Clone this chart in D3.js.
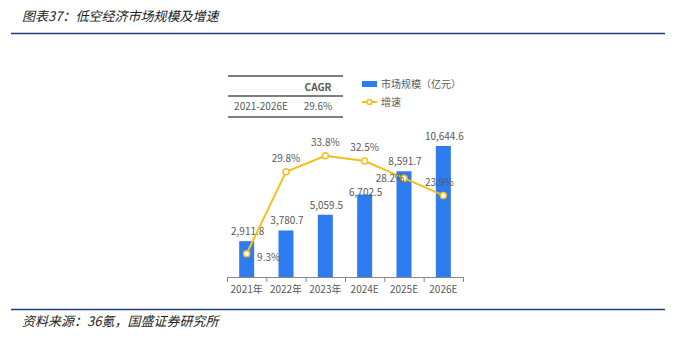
<!DOCTYPE html>
<html><head><meta charset="utf-8">
<script src="https://cdn.jsdelivr.net/npm/d3@7"></script>
<style>body{margin:0;background:#fff;}svg{display:block;font-family:"Noto Sans CJK SC","Noto Sans",sans-serif;}</style>
</head><body>
<svg id="c" width="675" height="339"></svg>
<script>
const categories = ["2021年","2022年","2023年","2024E","2025E","2026E"];
const marketSize = [2911.8, 3780.7, 5059.5, 6702.5, 8591.7, 10644.6];
const growth = [9.3, 29.8, 33.8, 32.5, 28.2, 23.9];
const cagrHeader = "CAGR";
const cagrRow = ["2021-2026E", "29.6%"];
const legendLabels = ["市场规模（亿元）", "增速"];
const titleText = "图表37：低空经济市场规模及增速";
const sourceText = "资料来源：36氪，国盛证券研究所";

const svg = d3.select("#c");
const blue = "#2f7bf0", yellow = "#f4bf1a", gray = "#595959";

// title & source
svg.append("text").attr("x",22).attr("y",21).attr("font-size",13).attr("font-style","italic")
  .attr("fill","#222").text(titleText);
svg.append("line").attr("x1",11).attr("x2",665).attr("y1",33.5).attr("y2",33.5)
  .attr("stroke","#1f3d78").attr("stroke-width",1.5);
svg.append("line").attr("x1",11).attr("x2",665).attr("y1",309.5).attr("y2",309.5)
  .attr("stroke","#1f3d78").attr("stroke-width",1.5);
svg.append("text").attr("x",22).attr("y",326).attr("font-size",13).attr("font-style","italic")
  .attr("fill","#222").text(sourceText);

const xc = d3.scaleBand().domain(categories).range([227,463]);
const y = d3.scaleLinear().domain([0,12000]).range([277, 277-131*12000/10644.6]);
const y2 = d3.scaleLinear().domain([0,40]).range([291,131]);

// bars
svg.selectAll("rect.bar").data(marketSize).join("rect").attr("class","bar")
  .attr("x",(d,i)=>xc(categories[i])+xc.bandwidth()/2-7.5).attr("width",15)
  .attr("y",d=>y(d)).attr("height",d=>y(0)-y(d)).attr("fill",blue);

// axis
const ax = svg.append("g").attr("transform","translate(0,277)").call(
  d3.axisBottom(xc).tickSize(0).tickPadding(9));
ax.select(".domain").attr("stroke","#888");
ax.selectAll("text").attr("font-size",10).attr("fill",gray).attr("font-family","'Noto Sans CJK SC','Noto Sans',sans-serif");
const edges = xc.domain().map(c=>xc(c)).concat([xc.range()[1]]);
svg.selectAll("line.tk").data(edges).join("line").attr("class","tk")
  .attr("x1",d=>d+0.5).attr("x2",d=>d+0.5).attr("y1",277).attr("y2",282).attr("stroke","#888");

// bar labels
const blOff = [-6,-6,-6,1,-6,-6];
svg.selectAll("text.bl").data(marketSize).join("text").attr("class","bl")
  .attr("x",(d,i)=>xc(categories[i])+xc.bandwidth()/2+1).attr("y",(d,i)=>y(d)+blOff[i])
  .attr("text-anchor","middle").attr("font-size",10).attr("fill",gray)
  .text(d=>d3.format(",.1f")(d));

// line
const cx = i=>xc(categories[i])+xc.bandwidth()/2;
svg.append("path").datum(growth)
  .attr("d", d3.line().x((d,i)=>cx(i)).y(d=>y2(d)))
  .attr("fill","none").attr("stroke",yellow).attr("stroke-width",2);
svg.selectAll("circle.pt").data(growth).join("circle").attr("class","pt")
  .attr("cx",(d,i)=>cx(i)).attr("cy",d=>y2(d)).attr("r",3)
  .attr("fill","#fff").attr("stroke",yellow).attr("stroke-width",1.5);

// line labels
const off = [[22,7],[0,-10],[0,-10],[0,-10],[-14,4],[-4,-9]];
svg.selectAll("text.gl").data(growth).join("text").attr("class","gl")
  .attr("x",(d,i)=>cx(i)+off[i][0]).attr("y",(d,i)=>y2(d)+off[i][1])
  .attr("text-anchor","middle").attr("font-size",10).attr("fill",gray)
  .text(d=>d.toFixed(1)+"%");

// CAGR table
const tb = svg.append("g");
[76,96,117].forEach(yy=>tb.append("line").attr("x1",228).attr("x2",343).attr("y1",yy).attr("y2",yy)
  .attr("stroke","#555").attr("stroke-width",1.3));
tb.append("text").attr("x",318).attr("y",91).attr("text-anchor","middle").attr("font-size",10)
  .attr("font-weight","bold").attr("fill",gray).text(cagrHeader);
tb.append("text").attr("x",261).attr("y",110).attr("text-anchor","middle").attr("font-size",10)
  .attr("fill",gray).text(cagrRow[0]);
tb.append("text").attr("x",318).attr("y",110).attr("text-anchor","middle").attr("font-size",10)
  .attr("fill",gray).text(cagrRow[1]);

// legend
const lg = svg.append("g");
lg.append("rect").attr("x",362).attr("y",81).attr("width",15).attr("height",6).attr("fill",blue);
lg.append("text").attr("x",381).attr("y",88).attr("font-size",10).attr("fill",gray).text(legendLabels[0]);
lg.append("line").attr("x1",362).attr("x2",377).attr("y1",102).attr("y2",102).attr("stroke",yellow).attr("stroke-width",2);
lg.append("circle").attr("cx",369.5).attr("cy",102).attr("r",2.5).attr("fill","#fff").attr("stroke",yellow).attr("stroke-width",1.5);
lg.append("text").attr("x",381).attr("y",106).attr("font-size",10).attr("fill",gray).text(legendLabels[1]);
</script>
</body></html>
